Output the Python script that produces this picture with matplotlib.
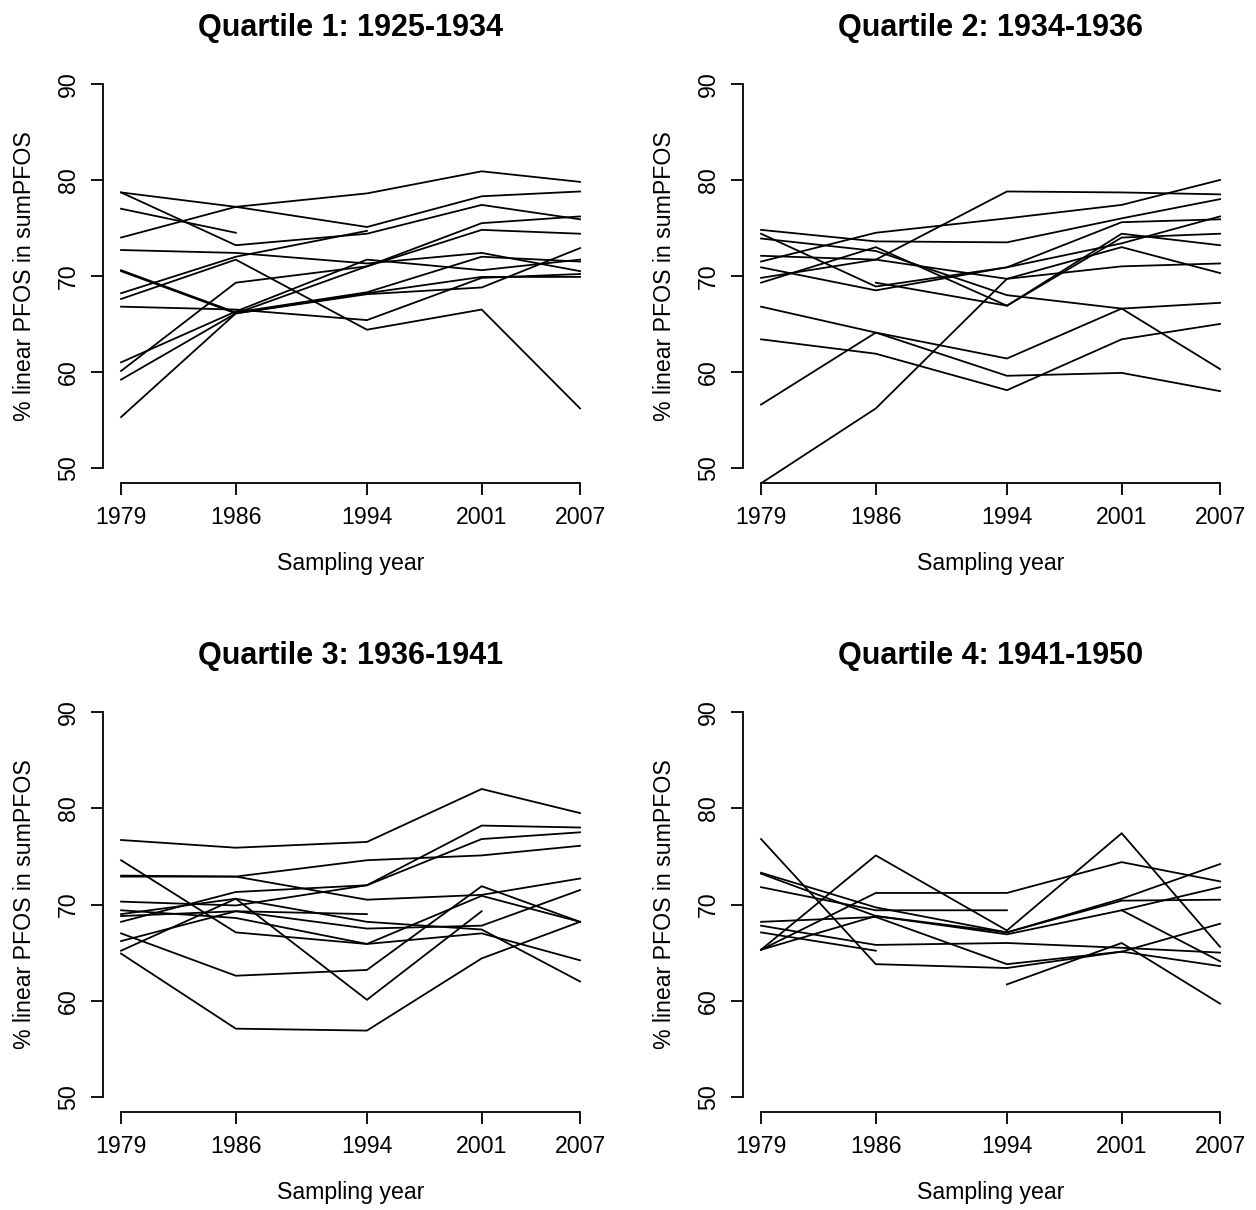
import numpy as np
import matplotlib.pyplot as plt

plt.rcParams['font.family'] = ['Liberation Sans', 'DejaVu Sans']

nan = np.nan
years = [1979, 1986, 1994, 2001, 2007]
titles = ['Quartile 1: 1925-1934', 'Quartile 2: 1934-1936',
          'Quartile 3: 1936-1941', 'Quartile 4: 1941-1950']

# % linear PFOS per person, values at each sampling year (nan = not sampled)
q1 = [
    [78.7, 77.2, 78.6, 80.9, 79.8],
    [74.0, 77.2, 75.1, 78.3, 78.8],
    [78.7, 73.2, 74.4, 77.4, 75.9],
    [68.2, 72.0, 74.7, nan, nan],
    [77.0, 74.5, nan, nan, nan],
    [67.6, 71.7, 64.4, 66.5, 56.2],
    [72.7, 72.4, 71.3, 72.4, 70.5],
    [60.1, 69.3, 71.0, 75.5, 76.2],
    [70.6, 66.2, 68.3, 72.0, 71.5],
    [70.5, 66.1, 68.2, 69.9, 69.9],
    [61.0, 66.3, 71.7, 70.6, 71.7],
    [59.2, 66.1, 68.1, 68.8, 72.9],
    [55.3, 66.1, 71.0, 74.8, 74.4],
    [66.8, 66.5, 65.4, 69.8, 70.2],
]
q2 = [
    [72.1, 71.7, 78.8, 78.7, 78.5],
    [71.5, 74.5, 76.0, 77.4, 80.0],
    [74.8, 73.6, 73.5, 76.0, 78.0],
    [74.4, 68.9, 70.9, 75.6, 75.9],
    [69.3, 73.0, 66.9, 74.0, 74.4],
    [73.9, 72.6, 68.0, 66.6, 60.3],
    [69.8, 71.7, 69.7, 71.0, 71.3],
    [70.9, 68.5, 70.9, 73.4, 76.2],
    [nan, 69.3, 66.9, 74.4, 73.2],
    [66.8, 64.1, 61.4, 66.6, 67.2],
    [56.6, 64.1, 59.6, 59.9, 58.0],
    [63.4, 61.9, 58.1, 63.4, 65.0],
    [48.4, 56.2, 69.7, 73.0, 70.3],
]
q3 = [
    [76.7, 75.9, 76.5, 82.0, 79.5],
    [73.0, 72.9, 74.6, 75.1, 76.1],
    [72.9, 72.9, 70.5, 71.0, 72.7],
    [74.6, 67.1, 65.9, 70.9, 68.2],
    [68.8, 69.3, 69.0, nan, nan],
    [70.3, 69.9, 72.0, 78.2, 78.0],
    [68.2, 71.3, 72.0, 76.8, 77.5],
    [69.0, 70.6, 60.1, 69.3, nan],
    [66.2, 69.3, 67.5, 67.8, 71.5],
    [65.2, 70.6, 68.2, 67.4, 62.0],
    [69.4, 68.6, 65.9, 67.0, 64.2],
    [67.0, 62.6, 63.2, 71.9, 68.2],
    [64.9, 57.1, 56.9, 64.4, 68.2],
]
q4 = [
    [76.8, 63.8, 63.4, 65.1, 63.6],
    [65.3, 75.1, 67.3, 77.4, 65.6],
    [65.3, 71.2, 71.2, 74.4, 72.4],
    [65.3, 68.8, 66.9, 69.4, 71.8],
    [73.3, 69.7, 67.1, 70.6, 74.2],
    [73.2, 68.8, 67.1, 70.4, 70.5],
    [71.8, 69.4, 69.4, nan, nan],
    [68.2, 68.7, 63.8, 65.1, 68.0],
    [67.8, 65.8, 66.0, 65.5, 65.0],
    [67.1, 65.2, nan, nan, nan],
    [nan, nan, 61.7, 66.0, 59.7],
    [nan, nan, nan, 69.4, 64.1],
]
quartiles = [q1, q2, q3, q4]

fig = plt.figure(figsize=(12.56, 12.10), dpi=100)
W, H = 1256, 1210
# plot regions in pixels: (left, top, right, bottom)
boxes = [(102.7, 68.6, 598.4, 483.3), (742.7, 68.6, 1238.4, 483.3),
         (102.7, 696.6, 598.4, 1112.4), (742.7, 696.6, 1238.4, 1112.4)]

fs = 16.7
for k in range(4):
    l, t, r, b = boxes[k]
    ax = fig.add_axes([l / W, 1 - b / H, (r - l) / W, (b - t) / H])
    for row in quartiles[k]:
        ax.plot(years, row, c='black', lw=1.3, solid_joinstyle='miter')
    ax.set_xlim(1977.88, 2008.12)
    ax.set_ylim(48.4, 91.6)
    for s in ['top', 'right']:
        ax.spines[s].set_visible(False)
    ax.spines['left'].set_bounds(50, 90)
    ax.spines['bottom'].set_bounds(1979, 2007)
    for s in ['left', 'bottom']:
        ax.spines[s].set_linewidth(1.3)
    ax.set_xticks(years)
    ax.set_yticks([50, 60, 70, 80, 90])
    ax.tick_params(direction='out', length=8.6, width=1.3, labelsize=fs, pad=8)
    for lab in ax.get_yticklabels():
        lab.set_rotation(90)
        lab.set_va('center')
    ax.set_xlabel('Sampling year', fontsize=fs, va='center')
    ax.xaxis.set_label_coords(0.5, -0.193)
    ax.set_ylabel('% linear PFOS in sumPFOS', fontsize=fs, va='center')
    ax.yaxis.set_label_coords(-0.158, 0.5)
    ax.text(0.5, 1.098, titles[k], transform=ax.transAxes, ha='center',
            va='center', fontsize=22, fontweight='bold')

fig.savefig('out.png', dpi=100)
